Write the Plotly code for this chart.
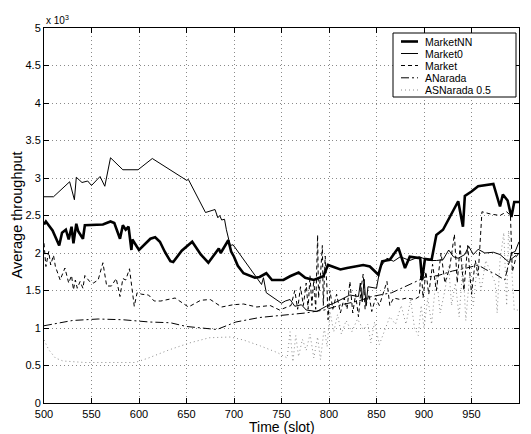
import plotly.graph_objects as go

# ---------------- data (throughput in units of 10^3) ----------------
nn_t = [500, 502, 509, 516, 519, 523, 526, 529, 531, 534, 536, 541, 543, 562, 570, 574, 580, 583, 586, 589,
        592, 593, 600, 606, 612, 617, 622, 627, 633, 636, 645, 656, 665, 673, 680, 684, 686, 694, 697, 700,
        704, 710, 722, 727, 734, 740, 752, 759, 768, 775, 784, 794, 799, 812, 819, 836, 843, 852, 856, 864,
        873, 880, 885, 896, 898, 901, 908, 913, 920, 927, 936, 941, 943, 950, 957, 973, 980, 983, 988, 992,
        995, 1000]
nn_v = [2.38, 2.42, 2.30, 2.10, 2.27, 2.31, 2.18, 2.35, 2.13, 2.39, 2.29, 2.19, 2.37, 2.38, 2.42, 2.40, 2.19, 2.37, 2.31, 2.35,
        2.04, 2.18, 2.04, 2.12, 2.19, 2.21, 2.15, 2.02, 1.89, 1.88, 2.03, 2.15, 1.98, 1.87, 2.00, 2.06, 2.00, 2.17, 2.02, 1.95,
        1.83, 1.73, 1.67, 1.68, 1.73, 1.64, 1.64, 1.69, 1.74, 1.67, 1.64, 1.69, 1.84, 1.78, 1.80, 1.84, 1.82, 1.71, 1.89, 1.91,
        2.07, 1.80, 1.95, 1.93, 1.64, 1.92, 1.91, 2.24, 2.31, 2.47, 2.69, 2.35, 2.76, 2.82, 2.89, 2.92, 2.62, 2.78, 2.70, 2.48,
        2.68, 2.68]

m0_t = [500, 510, 527, 532, 534, 540, 546, 550, 559, 564, 570, 583, 599, 614, 650, 652, 670, 680, 683, 685,
        687, 690, 692, 696, 699, 729, 731, 734, 750, 754, 759, 764, 771, 776, 787, 797, 805, 813, 822, 831,
        833, 835, 837, 839, 841, 850, 854, 861, 868, 875, 885, 895, 905, 913, 920, 926, 931, 936, 943, 947,
        952, 957, 964, 973, 980, 990, 992, 996, 1000]
m0_v = [2.75, 2.75, 2.95, 2.71, 3.01, 2.94, 2.96, 2.90, 3.02, 2.89, 3.27, 3.11, 3.11, 3.26, 2.97, 2.98, 2.54, 2.58, 2.47, 2.50,
        2.44, 2.45, 2.31, 2.10, 2.11, 1.58, 1.67, 1.47, 1.33, 1.36, 1.38, 1.29, 1.31, 1.24, 1.22, 1.29, 1.33, 1.38, 1.44, 1.42,
        1.60, 1.35, 1.65, 1.30, 1.55, 1.53, 1.81, 1.93, 1.89, 1.95, 1.90, 1.95, 1.90, 1.90, 1.91, 2.04, 1.95, 1.93, 1.98, 2.09,
        1.98, 2.05, 2.00, 2.01, 1.98, 1.87, 2.00, 2.02, 2.15]

mk_t = [500, 502, 505, 507, 510, 512, 517, 522, 526, 529, 531, 533, 535, 538, 541, 543, 548, 552, 557, 562,
        566, 571, 576, 580, 583, 586, 590, 593, 595, 598, 603, 610, 616, 623, 633, 638, 652, 665, 675, 687,
        699, 710, 724, 738, 748, 755, 760, 764, 767, 770, 773, 776, 778, 780, 782, 784, 786, 788, 789, 791,
        793, 794, 796, 798, 799, 801, 804, 808, 812, 816, 819, 822, 825, 828, 831, 834, 836, 838, 842, 845,
        849, 853, 857, 861, 864, 868, 875, 882, 890, 895, 897, 899, 902, 905, 909, 913, 918, 922, 927, 932,
        935, 938, 942, 946, 950, 954, 957, 959, 961, 970, 980, 987, 991, 993, 997, 1000]
mk_v = [2.13, 1.82, 2.02, 1.84, 1.97, 1.82, 1.64, 1.80, 1.60, 1.70, 1.51, 1.64, 1.53, 1.62, 1.53, 1.70, 1.62, 1.60, 1.64, 1.87,
        1.56, 1.56, 1.66, 1.42, 1.66, 1.64, 1.79, 1.53, 1.29, 1.47, 1.45, 1.44, 1.36, 1.36, 1.39, 1.40, 1.28, 1.37, 1.38, 1.28,
        1.31, 1.32, 1.28, 1.30, 1.24, 1.28, 1.30, 1.50, 1.25, 1.55, 1.30, 1.60, 1.25, 1.70, 1.30, 1.65, 1.25, 2.24, 1.40, 1.70,
        2.10, 1.30, 1.96, 1.50, 1.11, 1.50, 1.25, 1.45, 1.20, 1.40, 1.25, 1.62, 1.20, 1.45, 1.15, 1.55, 1.72, 1.25, 1.45, 1.22,
        1.40, 1.30, 1.45, 1.62, 1.30, 1.40, 1.38, 1.40, 1.38, 1.42, 1.80, 1.40, 1.75, 1.45, 1.85, 1.50, 2.00, 1.60, 1.80, 2.25,
        1.60, 2.10, 1.50, 2.10, 1.45, 1.90, 1.70, 2.15, 2.55, 2.52, 2.50, 2.55, 2.50, 1.75, 1.95, 2.00]

an_t = [500, 530, 557, 583, 611, 633, 650, 682, 702, 727, 759, 775, 795, 813, 831,
        845, 866, 881, 891, 902, 915, 930, 945, 957, 965, 975, 985, 990, 1000]
an_v = [1.03, 1.10, 1.12, 1.11, 1.08, 1.07, 1.02, 0.98, 1.08, 1.14, 1.18, 1.20, 1.24, 1.31, 1.36,
        1.42, 1.47, 1.56, 1.62, 1.68, 1.70, 1.76, 1.80, 1.84, 1.78, 1.72, 1.64, 1.90, 2.00]

as_t = [500, 505, 512, 520, 543, 596, 610, 632, 653, 674, 696, 710, 728, 746, 756, 759, 762, 765, 768, 772,
        776, 780, 784, 788, 791, 795, 798, 801, 805, 809, 813, 818, 824, 830, 836, 841, 844, 848, 853, 858,
        864, 870, 876, 881, 886, 890, 894, 897, 900, 904, 908, 913, 917, 922, 926, 929, 933, 937, 941, 944,
        948, 952, 956, 960, 965, 970, 975, 977, 980, 984, 987, 989, 992, 995, 1000]
as_v = [0.84, 0.71, 0.60, 0.56, 0.54, 0.54, 0.60, 0.71, 0.80, 0.87, 0.88, 0.84, 0.76, 0.67, 0.60, 0.95, 0.55, 0.90, 0.62, 0.85,
        0.70, 0.92, 0.60, 0.88, 0.58, 1.00, 0.75, 1.22, 0.95, 1.18, 0.92, 1.10, 0.95, 1.12, 0.98, 1.05, 0.80, 1.08, 0.78, 0.95,
        1.15, 1.05, 1.30, 1.05, 1.38, 1.00, 0.90, 1.30, 1.00, 1.40, 1.05, 1.70, 1.20, 1.50, 1.82, 1.30, 1.60, 1.15, 1.85, 1.10,
        1.70, 1.30, 1.85, 1.50, 1.90, 1.75, 1.60, 1.20, 1.90, 2.27, 1.30, 2.30, 1.85, 1.24, 1.24]

names = ["MarketNN", "Market0", "Market", "ANarada", "ASNarada 0.5"]
x_ticks = [500, 550, 600, 650, 700, 750, 800, 850, 900, 950, 1000]
y_ticks = [0, 0.5, 1, 1.5, 2, 2.5, 3, 3.5, 4, 4.5, 5]

for a, b in [(nn_t, nn_v), (m0_t, m0_v), (mk_t, mk_v), (an_t, an_v), (as_t, as_v)]:
    assert len(a) == len(b), (len(a), len(b))

# ---------------- styles ----------------
styles = [
    dict(color="black", width=2.6, dash="solid"),
    dict(color="black", width=1, dash="solid"),
    dict(color="black", width=1, dash="4px,3px"),
    dict(color="black", width=1, dash="8px,3px,2px,3px"),
    dict(color="#8c8c8c", width=1, dash="1px,3px"),
]
data = [(nn_t, nn_v), (m0_t, m0_v), (mk_t, mk_v), (an_t, an_v), (as_t, as_v)]

FONT = "Liberation Sans, Arial, Helvetica, sans-serif"

fig = go.Figure()
# draw thin/dotted first so the thick line stays on top like the original
order = [4, 3, 2, 1, 0]
for i in order:
    t, v = data[i]
    fig.add_trace(go.Scatter(x=t, y=v, mode="lines", name=names[i],
                             line=dict(**styles[i]), showlegend=False))

# plot-area geometry in pixels (for the hand-drawn MATLAB-like legend)
W, H = 531, 434
L, R, T, B = 44, 12, 28, 31
pw, ph = W - L - R, H - T - B


def px2x(px):
    return (px - L) / pw


def px2y(py):
    return 1 - (py - T) / ph


shapes = []
annotations = []
# legend box
shapes.append(dict(type="rect", xref="paper", yref="paper",
                   x0=px2x(393), x1=px2x(516), y0=px2y(97), y1=px2y(33),
                   line=dict(color="black", width=1), fillcolor="white", layer="above"))
row_y = [41.5, 53.5, 65.5, 77.8, 90]
for i, name in enumerate(names):
    yy = px2y(row_y[i])
    st = styles[i]
    shapes.append(dict(type="line", xref="paper", yref="paper",
                       x0=px2x(401), x1=px2x(418), y0=yy, y1=yy,
                       line=dict(color=st["color"], width=st["width"], dash=st["dash"]),
                       layer="above"))
    annotations.append(dict(text=name, xref="paper", yref="paper", x=px2x(423), y=yy,
                            xanchor="left", yanchor="middle", showarrow=False,
                            font=dict(family=FONT, size=10.5, color="black")))

# axis titles and exponent label
annotations.append(dict(text="Time (slot)", xref="paper", yref="paper", x=0.5, y=px2y(427.5),
                        xanchor="center", yanchor="middle", showarrow=False,
                        font=dict(family=FONT, size=14, color="black")))
annotations.append(dict(text="Average throughput", xref="paper", yref="paper", x=px2x(16), y=0.5,
                        xanchor="center", yanchor="middle", showarrow=False, textangle=-90,
                        font=dict(family=FONT, size=14.5, color="black")))
annotations.append(dict(text="x 10<sup>3</sup>", xref="paper", yref="paper", x=0, y=1,
                        xanchor="left", yanchor="bottom", yshift=0, showarrow=False,
                        font=dict(family=FONT, size=10, color="black")))

axis_common = dict(showline=True, linecolor="black", linewidth=1, mirror="ticks",
                   ticks="inside", ticklen=5, tickcolor="black", tickwidth=1,
                   showgrid=True, gridcolor="#8a8a8a", gridwidth=1, griddash="1px,3px",
                   zeroline=False, tickfont=dict(family=FONT, size=11, color="black"))

fig.update_xaxes(range=[500, 1000], tickmode="array", tickvals=x_ticks,
                 ticktext=[str(v) for v in x_ticks], ticklabelstandoff=1, **axis_common)
fig.update_yaxes(range=[0, 5], tickmode="array", tickvals=y_ticks,
                 ticktext=[("%g" % v) for v in y_ticks], **axis_common)

fig.update_layout(width=W, height=H, margin=dict(l=L, r=R, t=T, b=B, pad=0),
                  paper_bgcolor="white", plot_bgcolor="white", showlegend=False,
                  shapes=shapes, annotations=annotations,
                  font=dict(family=FONT, color="black"))

fig.write_html("out.html", config={"displayModeBar": False},
               post_script="document.body.style.margin='0';document.body.style.padding='0';")
